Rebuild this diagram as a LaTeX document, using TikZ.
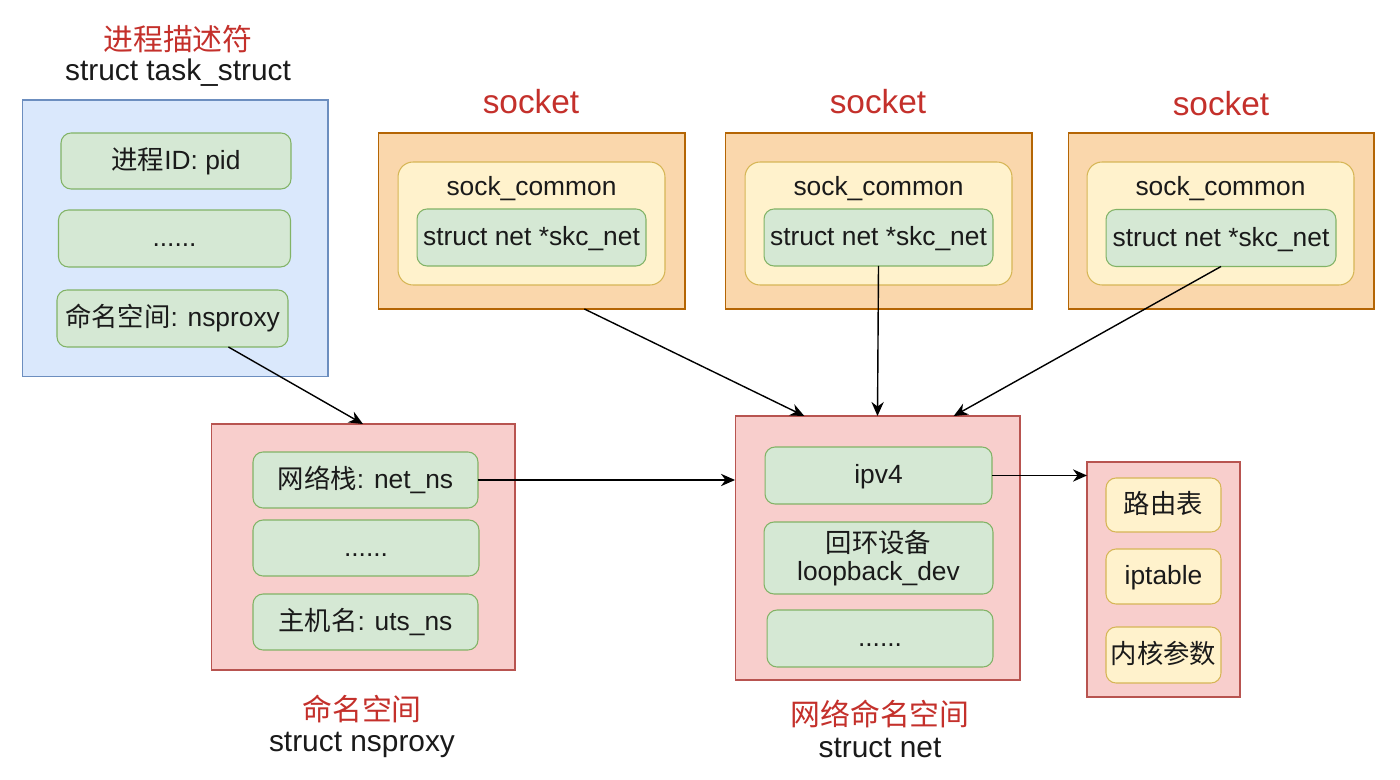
\documentclass[tikz,border=0pt]{standalone}
\usepackage{fontspec}
\setmainfont{Liberation Sans}
\newfontfamily\cjk{Noto Sans CJK SC}
\usetikzlibrary{arrows.meta}
\newcommand\mystrut{\rule[-3.4pt]{0pt}{16.4pt}}
\definecolor{bluefill}{HTML}{DAE8FC}
\definecolor{bluedraw}{HTML}{6C8EBF}
\definecolor{greenfill}{HTML}{D5E8D4}
\definecolor{greendraw}{HTML}{82B366}
\definecolor{redfill}{HTML}{F8CECC}
\definecolor{reddraw}{HTML}{B85450}
\definecolor{orangefill}{HTML}{FAD7AC}
\definecolor{orangedraw}{HTML}{B46504}
\definecolor{yellowfill}{HTML}{FFF2CC}
\definecolor{yellowdraw}{HTML}{D6B656}
\definecolor{titlered}{HTML}{C4302B}
\definecolor{txt}{HTML}{1A1A1A}
\tikzset{
  base/.style={inner sep=0pt, outer sep=0pt, line width=0.6pt, text=txt, align=center},
  bluebox/.style={base, draw=bluedraw, fill=bluefill},
  redbox/.style={base, draw=reddraw, fill=redfill},
  orangebox/.style={base, draw=orangedraw, fill=orangefill},
  commonbox/.style={base, draw=yellowdraw, fill=yellowfill, rounded corners=0.3cm},
  greenbox/.style={base, draw=greendraw, fill=greenfill, rounded corners=0.2cm, font=\fontsize{15}{18}\selectfont},
  yellowbox/.style={base, draw=yellowdraw, fill=yellowfill, rounded corners=0.2cm, font=\fontsize{15}{18}\selectfont},
  redtitle/.style={inner sep=0pt, text=titlered, font=\fontsize{17}{20}\selectfont\cjk},
  socktitle/.style={inner sep=0pt, text=titlered, font=\fontsize{19}{22}\selectfont},
  subtitle/.style={inner sep=0pt, text=txt, font=\fontsize{17}{20}\selectfont},
  plain/.style={inner sep=0pt, text=txt, font=\fontsize{15}{18}\selectfont},
  arr/.style={line width=0.8pt, black, -{Stealth[length=8pt,width=7pt]}}
}
\begin{document}
\begin{tikzpicture}[x=0.02cm, y=-0.02cm]
\useasboundingbox[fill=white] (0,0) rectangle (1400,780);

% task_struct
\node[redtitle] (t1a) at (178,39) {进程描述符};
\node[subtitle] (t1b) at (178,73) {struct task\_struct};
\node[bluebox, minimum width=6.12cm, minimum height=5.54cm] (task) at (175,238.5) {};
\node[greenbox, minimum width=4.6cm, minimum height=1.12cm] (pid) at (176,161) {\mystrut{\cjk 进程}ID: pid};
\node[greenbox, minimum width=4.64cm, minimum height=1.14cm] (dots1) at (174.5,238.5) {\mystrut......};
\node[greenbox, minimum width=4.62cm, minimum height=1.14cm] (nsp) at (172.5,318.5) {\mystrut{\cjk 命名空间}: nsproxy};

% nsproxy
\node[redbox, minimum width=6.08cm, minimum height=4.92cm] (nsbox) at (363,547) {};
\node[greenbox, minimum width=4.5cm, minimum height=1.12cm] (netns) at (365.5,480) {\mystrut{\cjk 网络栈}: net\_ns};
\node[greenbox, minimum width=4.52cm, minimum height=1.12cm] (dots2) at (366,548) {\mystrut......};
\node[greenbox, minimum width=4.5cm, minimum height=1.12cm] (uts) at (365.5,622) {\mystrut{\cjk 主机名}: uts\_ns};
\node[redtitle] (t2a) at (362,709) {命名空间};
\node[subtitle] (t2b) at (362,745) {struct nsproxy};

% sockets
\node[socktitle] (s1t) at (531,102) {socket};
\node[orangebox, minimum width=6.14cm, minimum height=3.52cm] (sock1) at (531.5,221) {};
\node[commonbox, minimum width=5.34cm, minimum height=2.46cm] (sc1) at (531.5,223.5) {};
\node[plain] (sc1t) at (531.5,189) {sock\_common};
\node[greenbox, minimum width=4.58cm, minimum height=1.14cm] (skc1) at (531.5,237.5) {\mystrut struct net *skc\_net};

\node[socktitle] (s2t) at (878,102) {socket};
\node[orangebox, minimum width=6.14cm, minimum height=3.52cm] (sock2) at (878.5,221) {};
\node[commonbox, minimum width=5.34cm, minimum height=2.46cm] (sc2) at (878.5,223.5) {};
\node[plain] (sc2t) at (878.5,189) {sock\_common};
\node[greenbox, minimum width=4.58cm, minimum height=1.14cm] (skc2) at (878.5,237.5) {\mystrut struct net *skc\_net};

\node[socktitle] (s3t) at (1221,104) {socket};
\node[orangebox, minimum width=6.12cm, minimum height=3.52cm] (sock3) at (1221,221) {};
\node[commonbox, minimum width=5.34cm, minimum height=2.46cm] (sc3) at (1220.5,223.5) {};
\node[plain] (sc3t) at (1220.5,189) {sock\_common};
\node[greenbox, minimum width=4.6cm, minimum height=1.14cm] (skc3) at (1221,238) {\mystrut struct net *skc\_net};

% struct net
\node[redbox, minimum width=5.7cm, minimum height=5.28cm] (netbox) at (877.5,548) {};
\node[greenbox, minimum width=4.54cm, minimum height=1.14cm] (ipv4) at (878.5,475.5) {\mystrut ipv4};
\node[greenbox, minimum width=4.58cm, minimum height=1.44cm] (loop) at (878.5,558) {{\cjk 回环设备}\\[-2pt]loopback\_dev};
\node[greenbox, minimum width=4.52cm, minimum height=1.14cm] (dots3) at (880,638.5) {\mystrut......};
\node[redtitle] (t3a) at (880,714) {网络命名空间};
\node[subtitle] (t3b) at (880,748) {struct net};

% right box
\node[redbox, minimum width=3.06cm, minimum height=4.7cm] (rbox) at (1163.5,579.5) {};
\node[yellowbox, minimum width=2.3cm, minimum height=1.08cm] (route) at (1163.5,505) {\mystrut\cjk 路由表};
\node[yellowbox, minimum width=2.3cm, minimum height=1.1cm] (ipt) at (1163.5,576.5) {\mystrut iptable};
\node[yellowbox, minimum width=2.3cm, minimum height=1.12cm] (kparam) at (1163.5,655) {\mystrut\cjk 内核参数};

% arrows
\draw[arr] (nsp.-27) -- (nsbox.north);
\draw[arr] (netns.east) -- (netns.east -| netbox.west);
\draw[arr] (sock1.-59) -- (netbox.119);
\draw[arr] (skc2.south) -- (netbox.north);
\draw[arr] (skc3.south) -- (netbox.60);
\draw[arr] (ipv4.east) -- (ipv4.east -| rbox.west);
\end{tikzpicture}
\end{document}
